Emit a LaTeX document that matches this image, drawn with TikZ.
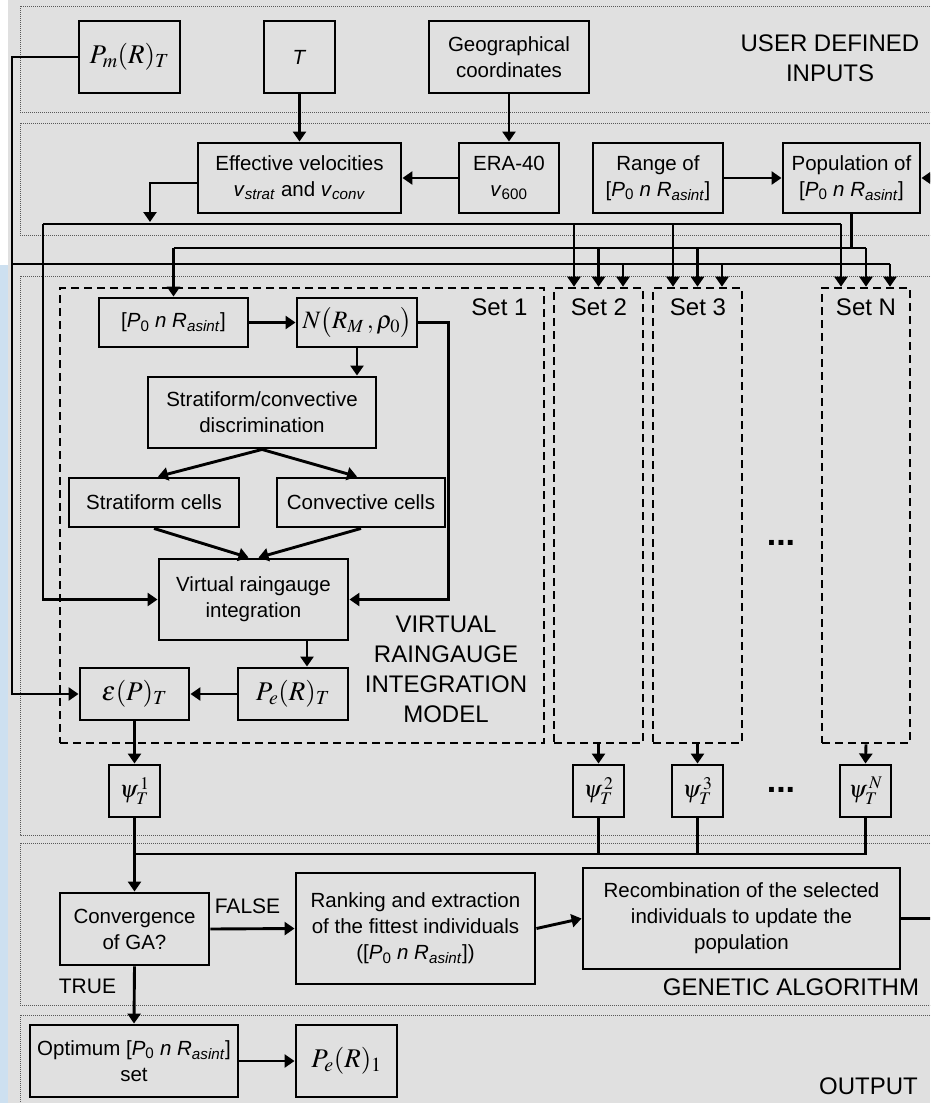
\documentclass[tikz,border=0pt]{standalone}
\usepackage{mathptmx}
\usepackage{fontspec}
\setmainfont{Liberation Sans}
\usetikzlibrary{arrows.meta,calc}
\definecolor{bg}{RGB}{224,224,224}
\definecolor{slide}{RGB}{205,224,240}
\newcommand{\PnR}{[\textit{P}\textsubscript{0} \textit{n R}\textsubscript{\textit{asint}}]}
\begin{document}
\begin{tikzpicture}[x=1pt,y=-1pt,
  box/.style={draw, line width=2.9pt, fill=bg, inner sep=0pt, align=center, font=\fontsize{20.5}{26}\selectfont},
  mbox/.style={box, font=\fontsize{27}{30}\selectfont},
  psibox/.style={box, font=\fontsize{24}{28}\selectfont, minimum width=51pt, minimum height=52pt},
  arr/.style={line width=2.9pt, -{Triangle[length=10pt,width=13pt]}},
  ln/.style={line width=2.9pt},
  sec/.style={draw=black!65, line width=1pt, densely dotted},
  setbox/.style={draw, line width=2.6pt, dash pattern=on 8pt off 5pt, inner sep=0pt},
  lbl/.style={font=\fontsize{24}{30}\selectfont, align=center, inner sep=0pt},
  dotlbl/.style={font=\fontsize{34}{34}\selectfont\bfseries, inner sep=0pt},
  small/.style={font=\fontsize{21}{26}\selectfont, inner sep=0pt},
]
\useasboundingbox (0,0) rectangle (930,1103);
\clip (0,0) rectangle (930,1103);
\fill[white] (0,0) rectangle (930,1103);
\fill[slide] (0,265) rectangle (8,1103);
\fill[bg] (8,0) rectangle (930,1103);

% sections
\draw[sec] (20,6) rectangle (945,112);
\draw[sec] (20,123) rectangle (945,235);
\draw[sec] (20,276) rectangle (945,835);
\draw[sec] (20,843) rectangle (945,1005);
\draw[sec] (20,1015) rectangle (945,1120);

% section labels
\node[lbl] (lusr) at (830,58) {USER DEFINED\\INPUTS};
\node[lbl] (lvri) at (446,669) {VIRTUAL\\RAINGAUGE\\INTEGRATION\\MODEL};
\node[lbl] (lga) at (791,987) {GENETIC ALGORITHM};
\node[lbl] (lout) at (868.5,1086) {OUTPUT};

% sets
\node[setbox, minimum width=484pt, minimum height=455pt] (set1) at (302,515.5) {};
\node[setbox, minimum width=89pt, minimum height=455pt] (set2) at (598.5,515.5) {};
\node[setbox, minimum width=89pt, minimum height=455pt] (set3) at (697.5,515.5) {};
\node[setbox, minimum width=88pt, minimum height=455pt] (setN) at (866,515.5) {};
\node[lbl] (t1) at (499.5,307) {Set 1};
\node[lbl] (t2) at (599,307) {Set 2};
\node[lbl] (t3) at (698,307) {Set 3};
\node[lbl] (tN) at (866,307) {Set N};
\node[dotlbl] (dots1) at (781,543) {...};
\node[dotlbl] (dots2) at (781,790) {...};

% user inputs
\node[mbox, minimum width=101pt, minimum height=72pt] (pm) at (129.5,57) {$P_m(R)_T$};
\node[box, minimum width=71pt, minimum height=72pt] (T) at (299.5,57) {\textit{T}};
\node[box, minimum width=160pt, minimum height=72pt] (geo) at (509,57) {Geographical\\coordinates};

% second row
\node[box, minimum width=203pt, minimum height=70pt] (eff) at (299.5,178) {Effective velocities\\\textit{v}\textsubscript{\textit{strat}} and \textit{v}\textsubscript{\textit{conv}}};
\node[box, minimum width=100pt, minimum height=70pt] (era) at (509,178) {ERA-40\\\textit{v}\textsubscript{600}};
\node[box, minimum width=130pt, minimum height=70pt] (range) at (658,178) {Range of\\\PnR};
\node[box, minimum width=137pt, minimum height=70pt] (pop) at (851.5,178) {Population of\\\PnR};

% set 1 contents
\node[box, minimum width=149pt, minimum height=49pt] (p0) at (173.5,322.5) {\PnR};
\node[box, minimum width=120pt, minimum height=49pt, font=\fontsize{25}{28}\selectfont] (N) at (357,322.5) {$N\bigl(R_M\,,\rho_0\bigr)$};
\node[box, minimum width=228pt, minimum height=71pt] (sc) at (262,412.5) {Stratiform/convective\\discrimination};
\node[box, minimum width=170pt, minimum height=49pt] (scell) at (154,502.5) {Stratiform cells};
\node[box, minimum width=168pt, minimum height=49pt] (ccell) at (361,502.5) {Convective cells};
\node[box, minimum width=189pt, minimum height=81pt] (vri) at (253.5,599.5) {Virtual raingauge\\integration};
\node[mbox, minimum width=110pt, minimum height=52pt] (pe) at (293,694) {$P_e(R)_T$};
\node[mbox, minimum width=109pt, minimum height=52pt] (eps) at (134.5,694) {$\varepsilon(P)_T$};

% psi boxes
\node[psibox] (psi1) at (134.5,791) {$\psi_{T}^{\,1}$};
\node[psibox] (psi2) at (598.5,791) {$\psi_{T}^{\,2}$};
\node[psibox] (psi3) at (697.5,791) {$\psi_{T}^{\,3}$};
\node[psibox] (psiN) at (865.5,791) {$\psi_{T}^{\,N}$};

% GA
\node[box, minimum width=149pt, minimum height=72pt] (conv) at (134.5,929) {Convergence\\of GA?};
\node[box, minimum width=239pt, minimum height=111pt] (rank) at (415.5,928.5) {Ranking and extraction\\of the fittest individuals\\(\PnR)};
\node[box, minimum width=317pt, minimum height=101pt] (recomb) at (741.5,918.5) {Recombination of the selected\\individuals to update the\\population};
\node[small] (false) at (247.5,906) {FALSE};
\node[small] (true) at (87.5,986.5) {TRUE};

% output
\node[box, minimum width=208pt, minimum height=72pt] (opt) at (134,1061) {Optimum \PnR\\set};
\node[mbox, minimum width=101pt, minimum height=72pt] (pe1) at (346.5,1061) {$P_e(R)_1$};

% coordinates
\coordinate (pmL) at (12,57);
\coordinate (vJ) at (150,222);
\coordinate (vL) at (43,224);
\coordinate (vR) at (841,224);
\coordinate (popJ) at (851.5,248);
\coordinate (pL) at (173.5,248);
\coordinate (pR) at (866,248);
\coordinate (mL) at (12,264);
\coordinate (mR) at (890,264);
\coordinate (gbus) at (134.5,854);
\coordinate (rJ) at (945,918.5);

% top connections
\draw[arr] (T.south) -- (eff.north);
\draw[arr] (geo.south) -- (era.north);
\draw[arr] (era.west) -- (eff.east);
\draw[arr] (range.east) -- (pop.west);

% velocity bus
\draw[arr] ([yshift=-5pt]eff.west) -| (vJ);
\draw[ln] (vL) -- (vR);
\draw[arr] (vL) |- (vri.west);
\draw[arr] (574,224) -- (574,224 |- set2.north);
\draw[arr] (673,224) -- (673,224 |- set3.north);
\draw[arr] (vR) -- (vR |- setN.north);

% population bus
\draw[ln] (pop.south) -- (popJ);
\draw[ln] (pL) -- (pR);
\draw[arr] (pL) -- (p0.north);
\draw[arr] (598.5,248) -- (598.5,248 |- set2.north);
\draw[arr] (697.5,248) -- (697.5,248 |- set3.north);
\draw[arr] (pR) -- (pR |- setN.north);

% Pm bus
\draw[arr] (pm.west) -- (pmL) |- (eps.west);
\draw[ln] (mL) -- (mR);
\draw[arr] (623,264) -- (623,264 |- set2.north);
\draw[arr] (722,264) -- (722,264 |- set3.north);
\draw[arr] (mR) -- (mR |- setN.north);

% set 1 internal
\draw[arr] (p0.east) -- (N.west);
\draw[arr] (N.south) -- (N.south |- sc.north);
\draw[arr] (N.east) -- ++(30,0) |- (vri.east);
\draw[arr] (sc.south) -- ([xshift=4pt]scell.north);
\draw[arr] (sc.south) -- ([xshift=-4pt]ccell.north);
\draw[arr] (scell.south) -- ([xshift=-5pt]vri.north);
\draw[arr] (ccell.south) -- ([xshift=5pt]vri.north);
\draw[arr] ([xshift=53.5pt]vri.south) -- ([xshift=14pt]pe.north);
\draw[arr] (pe.west) -- (eps.east);

% to psi
\draw[arr] (eps.south) -- (psi1.north);
\draw[arr] (set2.south) -- (psi2.north);
\draw[arr] (set3.south) -- (psi3.north);
\draw[arr] (setN.south) -- (psiN.north);

% psi bus to GA
\draw[ln] (psiN.south) |- (gbus);
\draw[ln] (psi2.south) -- (psi2.south |- gbus);
\draw[ln] (psi3.south) -- (psi3.south |- gbus);
\draw[arr] (psi1.south) -- (conv.north);

% GA connections
\draw[arr] (conv.east) -- (rank.west);
\draw[arr] (rank.east) -- (recomb.west);
\draw[arr] (recomb.east) -- (rJ) |- (pop.east);
\draw[arr] (conv.south) -- (opt.north);
\draw[arr] (opt.east) -- (pe1.west);
\end{tikzpicture}
\end{document}
